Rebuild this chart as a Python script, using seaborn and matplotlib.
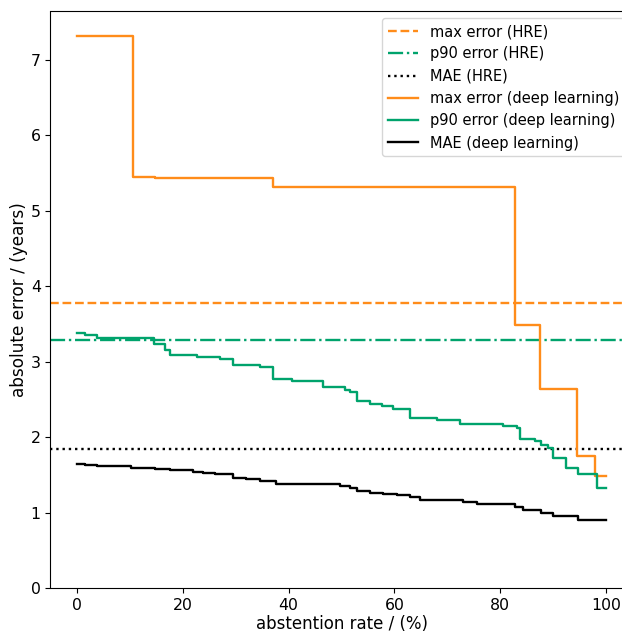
import matplotlib
matplotlib.use("Agg")
import matplotlib.pyplot as plt
import seaborn as sns

# HRE reference levels
hre_max = 3.78
hre_p90 = 3.29
hre_mae = 1.84

# deep learning: max error
max_x = [0, 10.5, 14.7, 37.0, 82.8, 87.5, 94.5, 97.9, 100]
max_y = [7.32, 5.45, 5.44, 5.32, 3.49, 2.64, 1.75, 1.49, 1.49]

# deep learning: p90 error
p90_x = [0, 1.5, 3.7, 14.6, 16.6, 17.6, 22.6, 27, 29.5, 34.6, 37.1, 40.6, 46.5,
         50.7, 51.6, 52.9, 55.4, 57.7, 59.7, 62.9, 68, 72.4, 80.5, 83.1, 83.7,
         86.6, 87.8, 89, 90, 92.4, 94.7, 98.2, 100]
p90_y = [3.38, 3.36, 3.31, 3.24, 3.15, 3.09, 3.06, 3.04, 2.96, 2.93, 2.77, 2.74, 2.67,
         2.62, 2.60, 2.48, 2.44, 2.41, 2.37, 2.25, 2.23, 2.17, 2.15, 2.12, 1.98,
         1.95, 1.90, 1.86, 1.72, 1.59, 1.51, 1.32, 1.32]

# deep learning: MAE
mae_x = [0, 1.6, 3.7, 10.3, 14.7, 17.6, 22, 23.9, 26, 29.5, 32, 34.6, 37.7, 49.7,
         51.6, 52.9, 55.4, 57.9, 60.4, 62.9, 64.8, 73, 75.6, 82.8, 84.3, 87.8, 90,
         94.7, 100]
mae_y = [1.65, 1.63, 1.62, 1.595, 1.58, 1.565, 1.54, 1.52, 1.505, 1.46, 1.45, 1.42,
         1.375, 1.357, 1.32, 1.29, 1.265, 1.24, 1.23, 1.21, 1.17, 1.14, 1.12, 1.08,
         1.03, 0.99, 0.95, 0.90, 0.90]

ORANGE = "#ff8c1a"
GREEN = "#00a36c"
BLACK = "#000000"

plt.rcParams["font.family"] = ["DejaVu Sans"]
plt.rcParams["font.size"] = 11

fig = plt.figure(figsize=(6.22, 6.32), dpi=100)
ax = fig.add_axes([50.5 / 622, 44 / 632, 582 / 622, 577 / 632])

LW = 1.7
ax.axhline(hre_max, color=ORANGE, ls="--", lw=LW, label="max error (HRE)")
ax.axhline(hre_p90, color=GREEN, ls="-.", lw=LW, label="p90 error (HRE)")
ax.axhline(hre_mae, color=BLACK, ls=":", lw=LW, label="MAE (HRE)")

sns.lineplot(x=max_x, y=max_y, drawstyle="steps-post", color=ORANGE, lw=LW,
             label="max error (deep learning)", errorbar=None, ax=ax)
sns.lineplot(x=p90_x, y=p90_y, drawstyle="steps-post", color=GREEN, lw=LW,
             label="p90 error (deep learning)", errorbar=None, ax=ax)
sns.lineplot(x=mae_x, y=mae_y, drawstyle="steps-post", color=BLACK, lw=LW,
             label="MAE (deep learning)", errorbar=None, ax=ax)

ax.set_xlim(-5, 105)
ax.set_ylim(0, 7.65)
ax.set_xticks([0, 20, 40, 60, 80, 100])
ax.set_yticks(range(0, 8))
ax.tick_params(labelsize=11.3)
ax.set_xlabel("abstention rate / (%)", fontsize=12, labelpad=1.5)
ax.set_ylabel("absolute error / (years)", fontsize=12.2, labelpad=2)
ax.legend(loc="upper right", fontsize=10.5, handlelength=2.1)

fig.savefig("out.png", dpi=100)
